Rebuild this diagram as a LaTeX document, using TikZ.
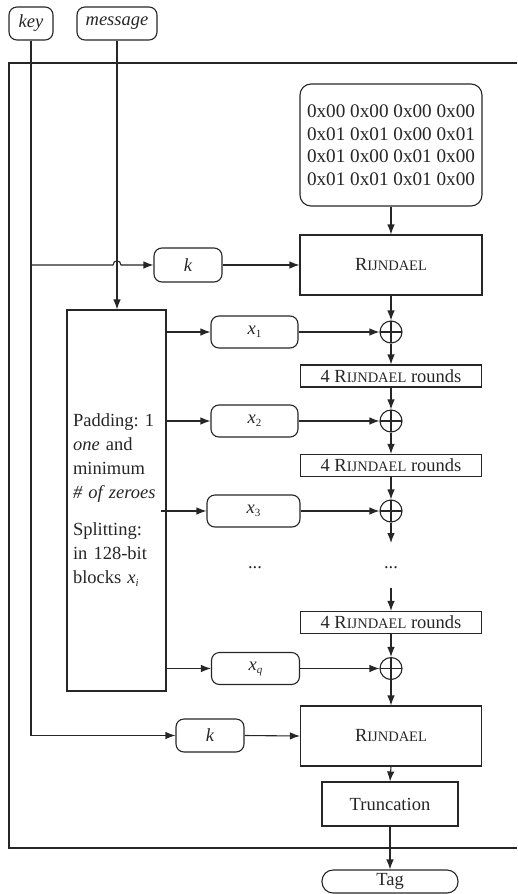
\documentclass[tikz,border=0pt]{standalone}
\usepackage{fontspec}
\setmainfont{Liberation Serif}
\usetikzlibrary{arrows.meta}
\frenchspacing
\newcommand\xsub[1]{\textit{x}\raisebox{-3pt}{\fontsize{11}{11}\selectfont\itshape #1}}
\newcommand\xsubup[1]{\textit{x}\raisebox{-3pt}{\fontsize{11}{11}\selectfont #1}}
\newcommand\rijn{R{\fontsize{14.5}{14.5}\selectfont IJNDAEL}}
\begin{document}
\begin{tikzpicture}[x=1pt,y=-1pt,
  every node/.style={text=black!85, font=\fontsize{18.5}{24}\selectfont, inner sep=0pt},
  conn/.style={draw=black!85, line width=1.1pt},
  arr/.style={conn, -{Latex[length=10pt,width=7.5pt]}},
  sqbox/.style={draw=black!85, line width=1.1pt, rectangle},
  rbox/.style={draw=black!85, line width=1.1pt, rectangle, rounded corners=8pt},
  xorc/.style={draw=black!85, line width=1.1pt, circle, minimum size=22pt,
    path picture={\draw[black!85, line width=1.1pt] (path picture bounding box.north) -- (path picture bounding box.south)
      (path picture bounding box.west) -- (path picture bounding box.east);}},
]
\useasboundingbox (0,0) rectangle (517,894);
% frame
\draw[conn] (517,63) -- (9,63) -- (9,848) -- (517,848);
% inputs
\node[rbox, minimum width=44pt, minimum height=33pt] (key) at (31,23.5) {\textit{key}};
\node[rbox, minimum width=80pt, minimum height=33pt] (msg) at (117,23.5) {\textit{message}};
% matrix and first Rijndael
\node[rbox, rounded corners=11pt, minimum width=182pt, minimum height=122pt, align=center,
  font=\fontsize{19.2}{22.5}\selectfont] (mat) at (391,145)
  {0x00 0x00 0x00 0x00\\0x01 0x01 0x00 0x01\\0x01 0x00 0x01 0x00\\0x01 0x01 0x01 0x00};
\node[sqbox, minimum width=182pt, minimum height=60pt] (r1) at (391,265) {\rijn};
\node[rbox, minimum width=68pt, minimum height=34pt] (k1) at (188,265) {\textit{k}};
% padding box
\node[sqbox, minimum width=99pt, minimum height=381pt, text width=87pt, align=left] (pad) at (116.5,500.5)
  {Padding: 1\\\textit{one} and\\minimum\\\textit{\# of zeroes}\\[13pt]Splitting:\\in 128-bit\\blocks \xsub{i}};
% blocks
\node[rbox, minimum width=87pt, minimum height=32pt] (x1) at (254.5,332) {\xsubup{1}};
\node[rbox, minimum width=87pt, minimum height=32pt] (x2) at (254.5,421) {\xsubup{2}};
\node[rbox, minimum width=93pt, minimum height=32pt] (x3) at (253.5,511) {\xsubup{3}};
\node[rbox, minimum width=88pt, minimum height=32pt] (xq) at (255.5,668.5) {\xsub{q}};
% xor circles
\node[xorc] (c1) at (391,332) {};
\node[xorc] (c2) at (391,421) {};
\node[xorc] (c3) at (391,511) {};
\node[xorc] (c4) at (391,668.5) {};
% rounds
\node[sqbox, minimum width=181pt, minimum height=22pt] (rd1) at (391,376) {4 \rijn{} rounds};
\node[sqbox, minimum width=181pt, minimum height=22pt] (rd2) at (391,465.5) {4 \rijn{} rounds};
\node[sqbox, minimum width=181pt, minimum height=22pt] (rd3) at (391,622.5) {4 \rijn{} rounds};
% dots
\node (d1) at (255,568) {...};
\node (d2) at (391,568) {...};
\coordinate (e3) at (391,543);
\coordinate (s3) at (391,588);
% final
\node[sqbox, minimum width=181pt, minimum height=60pt] (r2) at (391,736) {\rijn};
\node[rbox, minimum width=68pt, minimum height=33pt] (k2) at (210,735.5) {\textit{k}};
\node[sqbox, minimum width=136pt, minimum height=44pt] (tr) at (390,804) {Truncation};
\node[rbox, rounded corners=11pt, minimum width=136pt, minimum height=23pt] (tag) at (390,881.5) {Tag};
% key connections
\coordinate (kb) at (key.south |- k1);
\draw[conn] (key.south) -- (key.south |- k2) coordinate (kc);
\draw[arr] (kc) -- (k2.west);
\draw[arr] (kb) -- (113,265) .. controls (113,259.5) and (121,259.5) .. (121,265) -- (k1.west);
\draw[arr] (msg.south) -- (msg.south |- pad.north);
\draw[arr] (k1.east) -- (r1.west);
\draw[arr] (k2.east) -- (r2.west);
\draw[arr] (mat.south) -- (r1.north);
% blocks
\draw[arr] (pad.east |- x1) -- (x1.west);
\draw[arr] (pad.east |- x2) -- (x2.west);
\draw[arr] ([xshift=-6pt]pad.east |- x3) -- (x3.west);
\draw[arr] (pad.east |- xq) -- (xq.west);
\draw[arr] (x1.east) -- (c1.west);
\draw[arr] (x2.east) -- (c2.west);
\draw[arr] (x3.east) -- (c3.west);
\draw[arr] (xq.east) -- (c4.west);
% chain
\draw[arr] (r1.south) -- (c1.north);
\draw[arr] (c1.south) -- (rd1.north);
\draw[arr] (rd1.south) -- (c2.north);
\draw[arr] (c2.south) -- (rd2.north);
\draw[arr] (rd2.south) -- (c3.north);
\draw[arr] (c3.south) -- (e3);
\draw[arr] (s3) -- (rd3.north);
\draw[arr] (rd3.south) -- (c4.north);
\draw[arr] (c4.south) -- (r2.north);
\draw[arr] (r2.south) -- (tr.north);
\draw[arr] (tr.south) -- (tag.north);
\end{tikzpicture}
\end{document}
